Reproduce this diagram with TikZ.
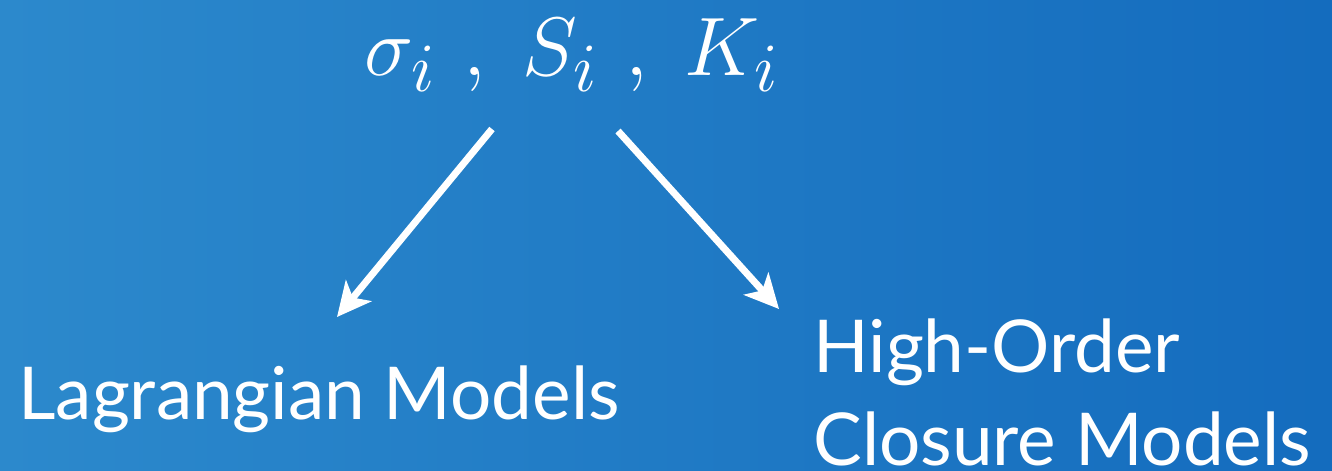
\documentclass[tikz,border=0pt]{standalone}
\usepackage{fix-cm}
\usepackage{fontspec}
\newfontfamily\gillfont{Lato}
\usetikzlibrary{arrows.meta, positioning}

\definecolor{skyleft}{RGB}{44,137,204}
\definecolor{skyright}{RGB}{20,108,190}

\begin{document}
\begin{tikzpicture}[x=0.02cm, y=-0.02cm,
    label/.style = {text=white, inner sep=0pt, font=\gillfont\fontsize{41.5}{53}\selectfont},
    flow/.style = {draw=white, line width=0.14cm, -{Stealth[length=0.68cm, width=0.66cm, inset=0.18cm]}}]
    % sky background
    \shade[left color=skyleft, right color=skyright] (0,0) rectangle (1332,470);
    \useasboundingbox (0,0) rectangle (1332,470);
    \node[text=white, inner sep=0pt, anchor=base, font=\fontsize{24.88}{30}\selectfont] (sym) at (572,75)
        {\scalebox{1.9}{$\sigma_i\mskip6mu,\;S_i\mskip6mu,\;K_i$}};
    \node[label, anchor=base west] (lag) at (18,419) {Lagrangian Models};
    \node[label, anchor=north west, align=left] (hoc) at (813,318) {High-Order\\Closure Models};
    \draw[flow] ([shift={(-80,54)}]sym.base) -- ([shift={(319,-102)}]lag.base west);
    \draw[flow] ([shift={(46,56)}]sym.base) -- ([shift={(-34,-9)}]hoc.north west);
\end{tikzpicture}
\end{document}
